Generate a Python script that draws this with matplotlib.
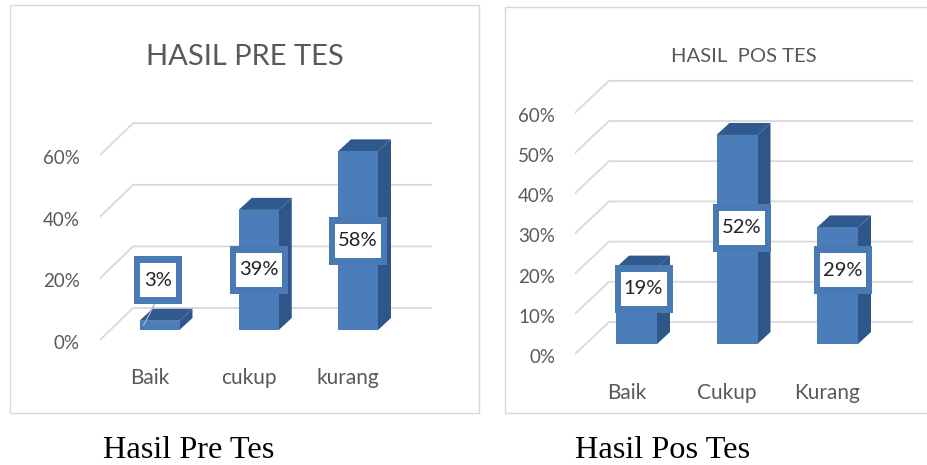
import matplotlib
matplotlib.use("Agg")
import matplotlib.pyplot as plt
from matplotlib.patches import Polygon, Rectangle

W, H = 927, 465

pre_title = "HASIL PRE TES"
pre_categories = ["Baik", "cukup", "kurang"]
pre_values = [3, 39, 58]
pre_ticks = [0, 20, 40, 60]

pos_title = "HASIL  POS TES"
pos_categories = ["Baik", "Cukup", "Kurang"]
pos_values = [19, 52, 29]
pos_ticks = [0, 10, 20, 30, 40, 50, 60]

FRONT = "#4a7dba"
SIDE = "#2f5689"
TOP = "#30598e"
BORDER = "#4a7ab4"
GRID = "#d9d9d9"
TEXT = "#595959"


def draw_panel(frame, title, title_pos, title_size, categories, values, ticks, layout):
    # frame border in figure pixels
    x0, y0, x1, y1 = frame
    fig.add_artist(Rectangle((x0 / W, 1 - y1 / H), (x1 - x0) / W, (y1 - y0) / H,
                             transform=fig.transFigure, fc="white", ec=GRID, lw=1, zorder=-1))
    fig.text(title_pos[0] / W, 1 - title_pos[1] / H, title, family="Lato", color=TEXT,
             fontsize=title_size, ha="center", va="center")

    left, right = layout["left"], layout["right"]
    top, bottom = layout["top"], layout["bottom"]
    base, yscale = layout["base"], layout["yscale"]
    first, step = layout["first"], layout["step"]

    ax = fig.add_axes([left / W, 1 - bottom / H, (right - left) / W, (bottom - top) / H])
    ax.set_xlim((left - first) / step, (right - first) / step)
    ax.set_ylim((base - bottom) / yscale, (base - top) / yscale)
    ax.patch.set_alpha(0)
    for spine in ax.spines.values():
        spine.set_visible(False)

    xmin = ax.get_xlim()[0]
    xmax = ax.get_xlim()[1]
    drop = 10 / yscale
    rise = 22 / yscale
    run = layout["run"] / step
    dx = 13 / step
    dy = 12 / yscale
    width = layout["width"] / step

    for tick in ticks:
        ax.plot([xmin, xmin + run, xmax], [tick - drop, tick + rise, tick + rise],
                color=GRID, lw=1.3, zorder=1, solid_joinstyle="miter")

    positions = list(range(len(values)))
    ax.bar(positions, values, width=width, color=FRONT, zorder=3)
    for pos, val in zip(positions, values):
        l, r = pos - width / 2, pos + width / 2
        ax.add_patch(Polygon([(r, 0), (r + dx, dy), (r + dx, val + dy), (r, val)],
                             fc=SIDE, ec="none", zorder=2))
        ax.add_patch(Polygon([(l, val), (l + dx, val + dy), (r + dx, val + dy), (r, val)],
                             fc=TOP, ec="none", zorder=2))

    # data labels
    for pos, val, cy in zip(positions, values, layout["label_y"]):
        cx = pos + layout["label_dx"][pos] / step
        ow, oh = layout["box_w"][pos] / step, 48 / yscale
        iw, ih = (layout["box_w"][pos] - 12) / step, 34 / yscale
        ax.add_patch(Rectangle((cx - ow / 2, cy - oh / 2), ow, oh, fc=BORDER, ec="none", zorder=4))
        ax.add_patch(Rectangle((cx - iw / 2, cy - ih / 2), iw, ih, fc="white", ec="none", zorder=5))
        ax.text(cx, cy, f"{val}%", family="Lato", fontsize=14.5, color="#222222",
                ha="center", va="center", zorder=6)

    # tick labels sit a little below the front end of each gridline
    ax.set_yticks([t - drop - 2 / yscale for t in ticks], [f"{t}%" for t in ticks])
    ax.set_xticks([p - 10 / step for p in positions], categories)
    ax.tick_params(axis="y", length=0, pad=layout["ypad"], labelcolor=TEXT, labelsize=13.5)
    ax.tick_params(axis="x", length=0, pad=layout["xpad"], labelcolor=TEXT, labelsize=15)
    for label in ax.get_xticklabels() + ax.get_yticklabels():
        label.set_family("Lato")
    return ax


fig = plt.figure(figsize=(W / 100, H / 100), dpi=100, facecolor="white")

ax_pre = draw_panel(
    (10, 5, 479, 413), pre_title, (245, 57), 21, pre_categories, pre_values, pre_ticks,
    dict(left=100, right=432, top=110, bottom=362, base=330, yscale=3.08, first=159.5,
         step=99.25, run=33, width=40, ypad=14.4, xpad=4,
         label_y=[16.2, 19.5, 29], label_dx=[-1.5, 0.5, 0], box_w=[48, 58, 58]),
)
# leader line of the 3% label
ax_pre.plot([-0.04, -0.16], [9, 1.5], color="#9db4cf", lw=0.9, zorder=3.5)

# the right frame runs off the edge of the picture
ax_pos = draw_panel(
    (505, 7, 940, 413), pos_title, (744, 57), 14.6, pos_categories, pos_values, pos_ticks,
    dict(left=575, right=913, top=70, bottom=375, base=344, yscale=4.02, first=636.5,
         step=100.5, run=34, width=41, ypad=14.4, xpad=6,
         label_y=[13.7, 28.9, 18.4], label_dx=[7, 5, 5], box_w=[58, 58, 58]),
)

fig.text(189 / W, 1 - 450 / H, "Hasil Pre Tes", family="Liberation Serif", fontsize=23.3,
         color="black", ha="center", va="center")
fig.text(663 / W, 1 - 450 / H, "Hasil Pos Tes", family="Liberation Serif", fontsize=23.3,
         color="black", ha="center", va="center")

fig.savefig("out.png", dpi=100)
